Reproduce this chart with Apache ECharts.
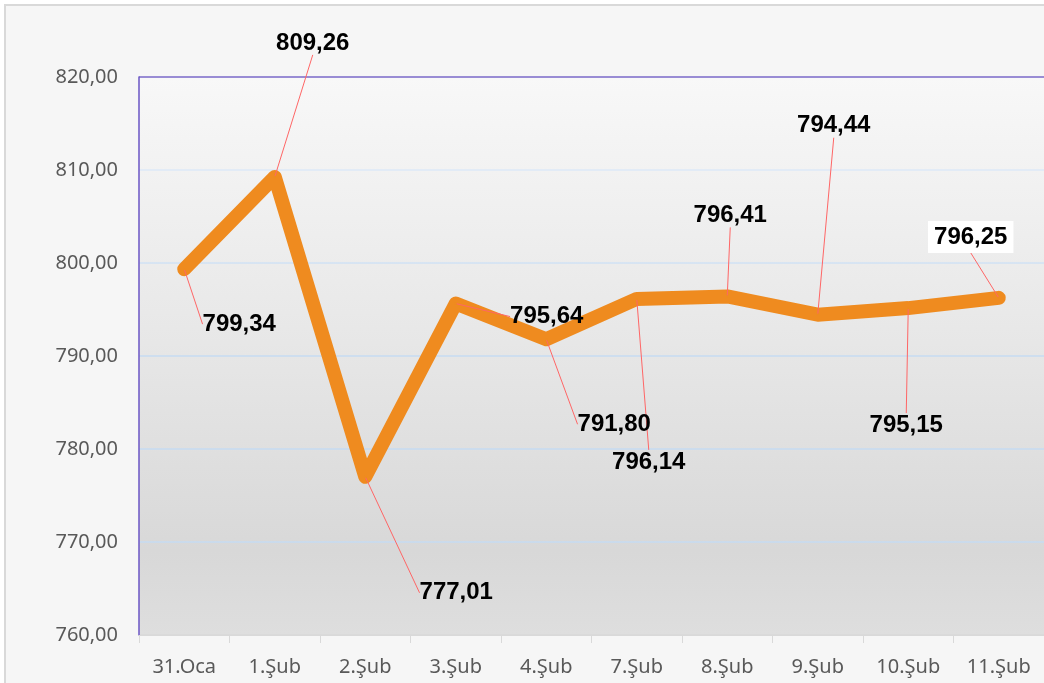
<!DOCTYPE html>
<html>
<head>
<meta charset="utf-8">
<script src="https://cdn.jsdelivr.net/npm/echarts@6/dist/echarts.min.js"></script>
<style>
    html, body { margin: 0; padding: 0; background: #ffffff; overflow: hidden; }
    /* dış çerçeve */
    #frame {
        position: absolute; left: 4px; top: 4px; width: 1100px; height: 720px;
        border: 2px solid #d9d9d9; background: #f6f6f6;
    }
    #main { position: absolute; left: 0; top: 0; width: 1044px; height: 683px; }
</style>
</head>
<body>
<div id="frame"></div>
<div id="main"></div>
<script>
// günler
let days = ['31.Oca', '1.Şub', '2.Şub', '3.Şub', '4.Şub', '7.Şub', '8.Şub', '9.Şub', '10.Şub', '11.Şub'];
// değerler
let values = [799.34, 809.26, 777.01, 795.64, 791.80, 796.14, 796.41, 794.44, 795.15, 796.25];
// eksen sınırları
let yMin = 760;
let yMax = 820;
let yStep = 10;

// etiketlerin noktaya göre kaydırılması (px)
let labelShift = [
    [55, 55], [38, -134], [91, 116], [91, 13], [68, 85],
    [12, 163], [3, -81], [16, -189], [-2, 117], [-28, -61]
];

function fmt(v, d) {
    return v.toFixed(d).replace('.', ',');
}

let seriesData = [];
for (let i = 0; i < values.length; i++) {
    let item = { value: values[i] };
    // son etiket beyaz kutulu
    if (i === values.length - 1) {
        item.label = { backgroundColor: '#ffffff', padding: [5, 6, 3, 6] };
    }
    seriesData.push(item);
}

let myChart = echarts.init(document.getElementById('main'), null, { renderer: 'canvas' });

let option = {
    backgroundColor: 'transparent',
    animation: false,
    grid: {
        left: 139,
        top: 77,
        right: -2,
        bottom: 48,
        show: true,
        borderWidth: 0,
        backgroundColor: {
            type: 'linear', x: 0, y: 0, x2: 0, y2: 1,
            colorStops: [
                { offset: 0, color: '#f8f8f8' },
                { offset: 0.45, color: '#e8e8e8' },
                { offset: 0.85, color: '#d8d8d8' },
                { offset: 1, color: '#dedede' }
            ]
        }
    },
    xAxis: {
        type: 'category',
        data: days,
        boundaryGap: true,
        axisLine: { lineStyle: { color: '#d9d9d9', width: 1 } },
        axisTick: { show: true, length: 8, lineStyle: { color: '#d9d9d9' } },
        axisLabel: {
            color: '#595959', fontSize: 20, fontFamily: 'Noto Sans', margin: 22
        }
    },
    yAxis: {
        type: 'value',
        min: yMin,
        max: yMax,
        interval: yStep,
        axisLine: { show: true, lineStyle: { color: '#6a55c4', width: 1.5 } },
        axisTick: { show: false },
        axisLabel: {
            color: '#595959', fontSize: 20, fontFamily: 'Noto Sans', margin: 21,
            formatter: function (v) { return fmt(v, 2); }
        },
        splitLine: {
            lineStyle: {
                color: ['#d9d9d9', '#c6dbf2', '#c6dbf2', '#c6dbf2', '#d0e2f5', '#dde9f7', '#7a68c8'],
                width: 1.5
            }
        }
    },
    series: [{
        type: 'line',
        data: seriesData,
        symbol: 'circle',
        symbolSize: 2,
        showSymbol: true,
        itemStyle: { color: '#ef8b1f' },
        lineStyle: { color: '#ef8b1f', width: 14, cap: 'round', join: 'round' },
        label: {
            show: true,
            position: 'inside',
            color: '#000000',
            fontSize: 24,
            fontWeight: 'bold',
            fontFamily: 'Liberation Sans',
            formatter: function (p) { return fmt(p.value, 2); }
        },
        labelLine: {
            show: true,
            showAbove: true,
            lineStyle: { color: '#ff6666', width: 1 }
        },
        labelLayout: function (p) {
            let s = labelShift[p.dataIndex];
            return { dx: s[0], dy: s[1] };
        }
    }]
};

myChart.setOption(option);
</script>
</body>
</html>
